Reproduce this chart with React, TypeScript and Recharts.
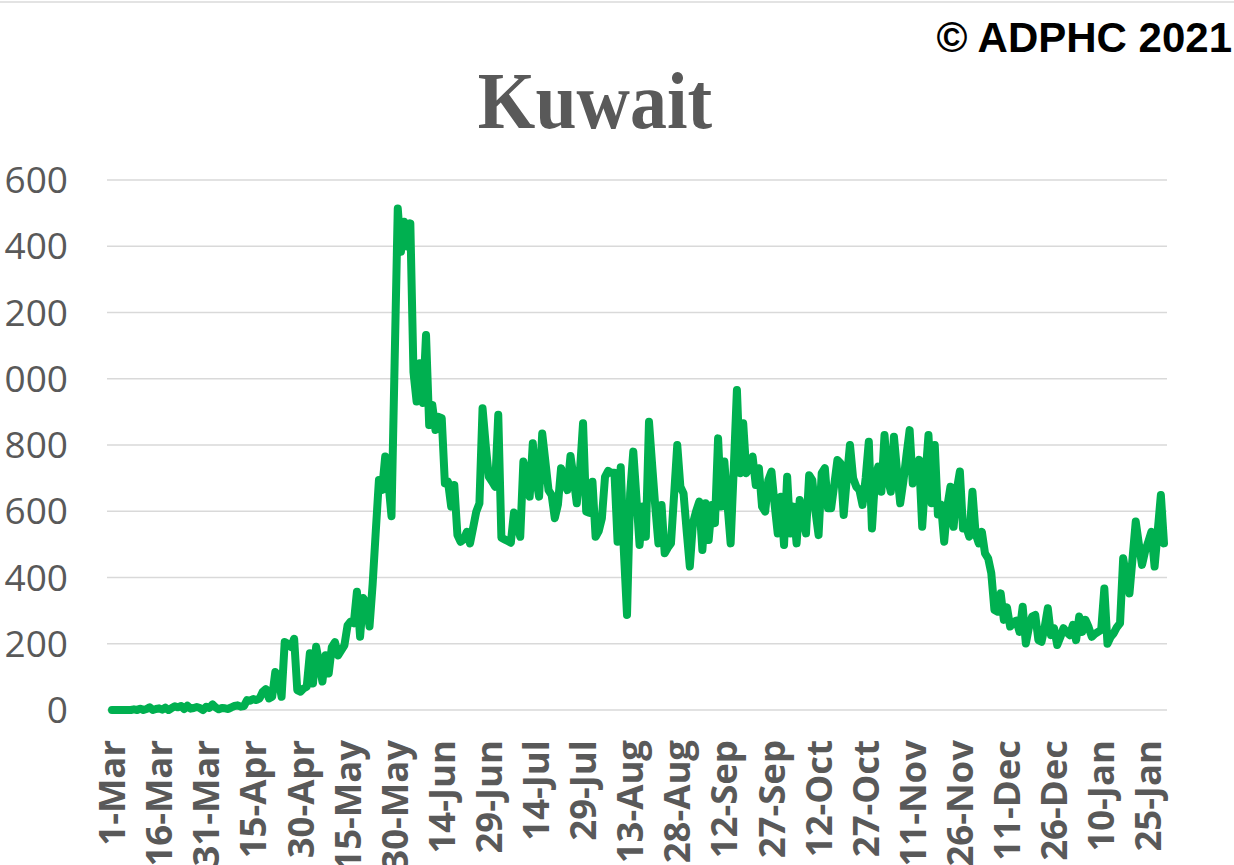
import React from 'react';
import { LineChart, Line, XAxis, YAxis, CartesianGrid } from 'recharts';

const MONTHS = ['Jan', 'Feb', 'Mar', 'Apr', 'May', 'Jun', 'Jul', 'Aug', 'Sep', 'Oct', 'Nov', 'Dec'];

// Daily new cases, 1-Mar-2020 .. 30-Jan-2021
const CASES: number[] = [
  0, 0, 0, 0, 0, 0, 0, 2, 0, 4,
  0, 3, 8, 0, 3, 5, 1, 7, 0, 6,
  11, 8, 12, 3, 13, 4, 6, 9, 6, 0,
  10, 6, 17, 8, 2, 6, 5, 3, 8, 12,
  14, 10, 12, 30, 28, 33, 30, 35, 55, 63,
  35, 40, 115, 95, 40, 205, 200, 190, 215, 60,
  55, 65, 70, 171, 80, 191, 140, 86, 165, 110,
  190, 205, 165, 180, 195, 255, 267, 262, 357, 221,
  338, 322, 252, 380, 540, 694, 664, 765, 690, 585,
  1050, 1514, 1383, 1474, 1399, 1469, 1020, 931, 1047, 927,
  1132, 860, 921, 845, 885, 881, 684, 689, 614, 679,
  528, 508, 515, 538, 503, 550, 599, 624, 911, 800,
  704, 690, 674, 891, 520, 515, 510, 505, 596, 560,
  523, 750, 700, 644, 805, 700, 644, 835, 750, 664,
  649, 579, 620, 730, 690, 664, 767, 700, 624, 720,
  866, 599, 595, 689, 523, 540, 579, 704, 722, 716,
  716, 508, 733, 480, 287, 654, 780, 640, 498, 614,
  523, 870, 740, 614, 503, 619, 473, 490, 503, 650,
  800, 674, 654, 540, 433, 564, 600, 629, 483, 624,
  513, 619, 564, 820, 614, 750, 620, 503, 730, 966,
  715, 866, 715, 740, 765, 679, 730, 614, 599, 694,
  720, 620, 533, 644, 498, 704, 533, 614, 503, 634,
  580, 533, 709, 694, 600, 528, 715, 730, 609, 609,
  680, 755, 745, 589, 700, 800, 700, 674, 664, 619,
  700, 810, 548, 700, 735, 659, 830, 700, 659, 825,
  720, 624, 690, 770, 845, 684, 720, 755, 553, 700,
  830, 624, 800, 590, 620, 508, 614, 674, 553, 664,
  720, 548, 553, 523, 659, 533, 503, 538, 473, 458,
  413, 302, 297, 352, 272, 310, 252, 265, 270, 236,
  312, 201, 250, 282, 287, 211, 206, 250, 307, 226,
  247, 196, 220, 247, 235, 226, 257, 211, 282, 236,
  272, 250, 221, 230, 236, 242, 367, 200, 220, 232,
  250, 262, 458, 400, 352, 460, 569, 500, 438, 480,
  508, 538, 433, 540, 649, 503,
];

const Y_TICKS = [0, 200, 400, 600, 800, 1000, 1200, 1400, 1600];

function buildDates(n: number): string[] {
  const out: string[] = [];
  const d = new Date(Date.UTC(2020, 2, 1));
  for (let i = 0; i < n; i++) {
    out.push(`${d.getUTCDate()}-${MONTHS[d.getUTCMonth()]}`);
    d.setUTCDate(d.getUTCDate() + 1);
  }
  return out;
}

const DATES = buildDates(CASES.length);
const data = DATES.map((date, i) => ({ date, cases: CASES[i] }));

const XTick = (props: any) => {
  const { x, y, payload } = props;
  return (
    <text
      x={x}
      y={y}
      transform={`rotate(-90, ${x}, ${y})`}
      textAnchor="end"
      dy="0.36em"
      fontFamily="Open Sans"
      fontWeight="bold"
      fontSize={36.5}
      fill="#595959"
    >
      {payload.value}
    </text>
  );
};

export default function App() {
  return (
    <div
      style={{
        position: 'absolute',
        left: 0,
        top: 0,
        width: 1234,
        height: 865,
        overflow: 'hidden',
        background: '#ffffff',
      }}
    >
      <LineChart
        width={1234}
        height={865}
        data={data}
        margin={{ top: 180, right: 67, left: 47, bottom: 5 }}
      >
        <CartesianGrid vertical={false} stroke="#d9d9d9" strokeWidth={1.5} />
        <XAxis
          dataKey="date"
          type="category"
          interval={14}
          axisLine={false}
          tickLine={false}
          tickSize={0}
          tickMargin={30}
          height={150}
          padding={{ left: 5, right: 3 }}
          tick={<XTick />}
        />
        <YAxis
          domain={[0, 1600]}
          ticks={Y_TICKS}
          width={60}
          axisLine={false}
          tickLine={false}
          tickSize={0}
          tickMargin={39}
          tick={{ fontSize: 37, fill: '#595959', fontFamily: 'Open Sans' }}
        />
        <Line
          type="linear"
          dataKey="cases"
          stroke="#00B050"
          strokeWidth={8}
          strokeLinejoin="round"
          strokeLinecap="round"
          dot={false}
          activeDot={false}
          isAnimationActive={false}
        />
      </LineChart>
      <svg
        width={1234}
        height={865}
        style={{ position: 'absolute', left: 0, top: 0, pointerEvents: 'none' }}
      >
        <line x1={0} y1={2} x2={1234} y2={2} stroke="#e3e3e3" strokeWidth={2} />
        <text
          x={1232}
          y={52}
          textAnchor="end"
          fontFamily="Liberation Sans"
          fontWeight="bold"
          fontSize={42}
          fill="#000000"
        >
          © ADPHC 2021
        </text>
        <g transform="translate(595,128) scale(0.925,1)">
          <text
            x={0}
            y={0}
            textAnchor="middle"
            fontFamily="Liberation Serif"
            fontWeight="bold"
            fontSize={80}
            fill="#595959"
          >
            Kuwait
          </text>
        </g>
      </svg>
    </div>
  );
}
